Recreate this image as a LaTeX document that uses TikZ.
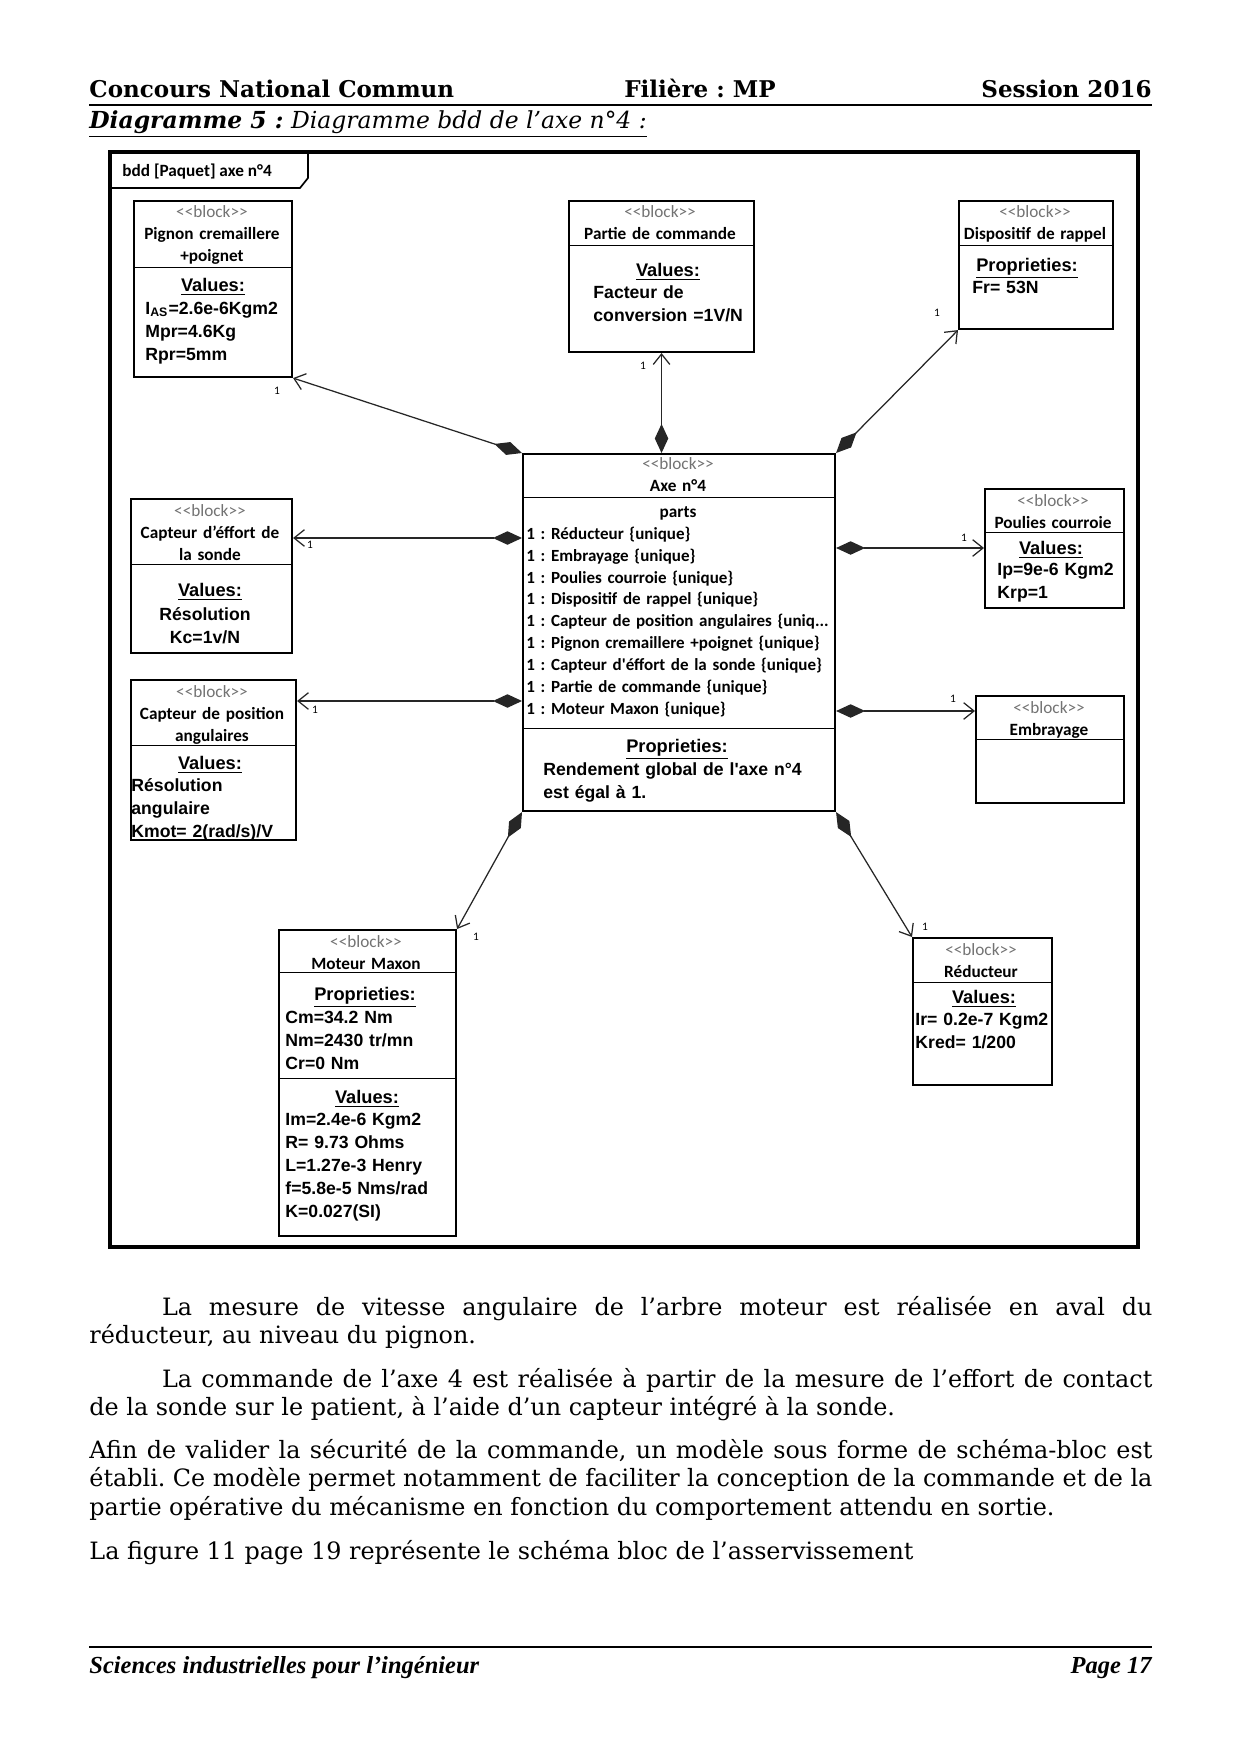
\documentclass[tikz,border=0pt]{standalone}
\usepackage{fontspec}
\setmainfont{DejaVu Serif}
\newfontfamily\calibfont{Carlito}
\newfontfamily\arialfont{Liberation Sans}
\newfontfamily\timesfont{Liberation Serif}
\usepackage{tikz}
\usetikzlibrary{positioning, calc, arrows.meta}

\def\pxl{0.016935cm}
\newcommand{\blk}{{\mdseries\color{black!55}<{}<block>{}>}}

\tikzset{
  bloc/.style={draw, line width=1pt, anchor=north west, inner sep=0pt},
  tete/.style={anchor=base, inner sep=0pt, align=center, text width=#1*\pxl,
    font=\calibfont\bfseries\fontsize{8.3}{10.8}\selectfont},
  titre/.style={anchor=base, inner sep=0pt, font=\arialfont\bfseries\fontsize{8.8}{11.2}\selectfont},
  valeur/.style={anchor=base west, inner sep=0pt, align=left, text width=#1*\pxl,
    font=\arialfont\bfseries\fontsize{8.5}{11.2}\selectfont},
  mult/.style={inner sep=0pt, font=\calibfont\fontsize{5.5}{6}\selectfont},
  compo/.style={draw=black!85, line width=0.6pt,
    {Diamond[length=14pt,width=6.5pt]}-{Straight Barb[length=5pt,width=8pt]}},
  texte/.style={anchor=base west, inner sep=0pt, align=justify, text width=1063*\pxl,
    font=\fontsize{11.5}{13.9}\selectfont}
}

\begin{document}
\frenchspacing
\begin{tikzpicture}[x=\pxl, y=-\pxl]
  \fill[white] (0,0) rectangle (1240,1754);
  \useasboundingbox (0,0) rectangle (1240,1754);

  % En-tete
  \node[anchor=base west, inner sep=0pt, font=\bfseries\fontsize{11.1}{13}\selectfont] (concours) at (89,97) {Concours National Commun};
  \node[anchor=base, inner sep=0pt, font=\bfseries\fontsize{11.1}{13}\selectfont] (filiere) at (700,97) {Filière : MP};
  \node[anchor=base east, inner sep=0pt, font=\bfseries\fontsize{11.1}{13}\selectfont] (session) at (1152,97) {Session 2016};
  \draw[line width=0.6pt] (89,105) -- (1152,105);
  \node[anchor=base west, inner sep=0pt, font=\itshape\fontsize{11.3}{13}\selectfont] (diag) at (89,128)
    {\underline{\textbf{Diagramme 5 :} Diagramme bdd de l’axe n°4 :}};

  % Cadre du diagramme
  \draw[line width=2.2pt] (110,152) rectangle (1138,1247);
  \draw[line width=0.8pt] (110,188) -- (300,188) -- (308,178) -- (308,152);
  \node[anchor=base west, inner sep=0pt, font=\calibfont\bfseries\fontsize{8.3}{10}\selectfont] (cadre) at (122,176) {bdd [Paquet] axe n°4};

  % Bloc central
  \node[bloc, minimum width=312*\pxl, minimum height=357*\pxl] (axe) at (522,453) {};
  \draw (axe.west |- 0,497) -- (axe.east |- 0,497);
  \draw (axe.west |- 0,728) -- (axe.east |- 0,728);
  \node[tete=312] (axeT) at (678,469) {\blk\\Axe n°4};
  \node[tete=312] (axeP) at (678,517) {parts};
  \node[anchor=base west, inner sep=0pt, align=left, text width=310*\pxl,
    font=\calibfont\bfseries\fontsize{8.2}{10.6}\selectfont] (axeL) at (526,539)
    {1 : Réducteur \{unique\}\\
     1 : Embrayage \{unique\}\\
     1 : Poulies courroie \{unique\}\\
     1 : Dispositif de rappel \{unique\}\\
     1 : Capteur de position angulaires \{uniq...\\
     1 : Pignon cremaillere +poignet \{unique\}\\
     1 : Capteur d'éffort de la sonde \{unique\}\\
     1 : Partie de commande \{unique\}\\
     1 : Moteur Maxon \{unique\}};
  \node[titre] (axeR) at (677,752) {\underline{Proprieties:}};
  \node[valeur=285] (axeS) at (543,775) {Rendement global de l'axe n°4\\est égal à 1.};

  % Premiere rangee
  \node[bloc, minimum width=158*\pxl, minimum height=176*\pxl] (pignon) at (133,200) {};
  \draw (pignon.west |- 0,267) -- (pignon.east |- 0,267);
  \node[tete=158] (pignonT) at (212,217) {\blk\\Pignon cremaillere\\+poignet};
  \node[titre] (pignonV) at (213,291) {\underline{Values:}};
  \node[valeur=140] (pignonL) at (145,314) {I\textsubscript{AS}=2.6e-6Kgm2\\Mpr=4.6Kg\\Rpr=5mm};

  \node[bloc, minimum width=185*\pxl, minimum height=151*\pxl] (cmd) at (568,200) {};
  \draw (cmd.west |- 0,245) -- (cmd.east |- 0,245);
  \node[tete=185] (cmdT) at (660,217) {\blk\\Partie de commande};
  \node[titre] (cmdV) at (668,276) {\underline{Values:}};
  \node[valeur=155] (cmdL) at (593,298) {Facteur de\\conversion =1V/N};

  \node[bloc, minimum width=154*\pxl, minimum height=128*\pxl] (rappel) at (958,200) {};
  \draw (rappel.west |- 0,245) -- (rappel.east |- 0,245);
  \node[tete=154] (rappelT) at (1035,217) {\blk\\Dispositif de rappel};
  \node[titre] (rappelP) at (1027,271) {\underline{Proprieties:}};
  \node[valeur=130] (rappelL) at (972,293) {Fr= 53N};

  % Capteurs a gauche
  \node[bloc, minimum width=161*\pxl, minimum height=154*\pxl] (effort) at (130,498) {};
  \draw (effort.west |- 0,564) -- (effort.east |- 0,564);
  \node[tete=161] (effortT) at (210,516) {\blk\\Capteur d’éffort de\\la sonde};
  \node[titre] (effortV) at (210,596) {\underline{Values:}};
  \node[valeur=150, align=center, anchor=base] (effortL) at (205,620) {Résolution\\Kc=1v/N};

  \node[bloc, minimum width=165*\pxl, minimum height=160*\pxl] (position) at (130,679) {};
  \draw (position.west |- 0,745) -- (position.east |- 0,745);
  \node[tete=165] (positionT) at (212,697) {\blk\\Capteur de position\\angulaires};
  \node[titre] (positionV) at (210,769) {\underline{Values:}};
  \node[valeur=160] (positionL) at (131,791) {Résolution\\angulaire\\Kmot= 2(rad/s)/V};

  % Blocs a droite
  \node[bloc, minimum width=139*\pxl, minimum height=119*\pxl] (poulies) at (984,488) {};
  \draw (poulies.west |- 0,532) -- (poulies.east |- 0,532);
  \node[tete=139] (pouliesT) at (1053,506) {\blk\\Poulies courroie};
  \node[titre] (pouliesV) at (1051,554) {\underline{Values:}};
  \node[valeur=125] (pouliesL) at (997,575) {Ip=9e-6 Kgm2\\Krp=1};

  \node[bloc, minimum width=148*\pxl, minimum height=107*\pxl] (embrayage) at (975,695) {};
  \draw (embrayage.west |- 0,739) -- (embrayage.east |- 0,739);
  \node[tete=148] (embrayageT) at (1049,713) {\blk\\Embrayage};

  % Rangee du bas
  \node[bloc, minimum width=177*\pxl, minimum height=306*\pxl] (moteur) at (278,929) {};
  \draw (moteur.west |- 0,972) -- (moteur.east |- 0,972);
  \draw (moteur.west |- 0,1078) -- (moteur.east |- 0,1078);
  \node[tete=177] (moteurT) at (366,947) {\blk\\Moteur Maxon};
  \node[titre] (moteurP) at (365,1000) {\underline{Proprieties:}};
  \node[valeur=165] (moteurL) at (285,1023) {Cm=34.2 Nm\\Nm=2430 tr/mn\\Cr=0 Nm};
  \node[titre] (moteurV) at (367,1103) {\underline{Values:}};
  \node[valeur=165] (moteurW) at (285,1125) {Im=2.4e-6 Kgm2\\R= 9.73 Ohms\\L=1.27e-3 Henry\\f=5.8e-5 Nms/rad\\K=0.027(SI)};

  \node[bloc, minimum width=139*\pxl, minimum height=147*\pxl] (reducteur) at (912,937) {};
  \draw (reducteur.west |- 0,982) -- (reducteur.east |- 0,982);
  \node[tete=139] (reducteurT) at (981,955) {\blk\\Réducteur};
  \node[titre] (reducteurV) at (984,1003) {\underline{Values:}};
  \node[valeur=135] (reducteurL) at (915,1025) {Ir= 0.2e-7 Kgm2\\Kred= 1/200};

  % Liens de composition
  \draw[compo] (cmd.south |- axe.north) -- (cmd.south);
  \draw[compo] (axe.north west) -- (pignon.south east);
  \draw[compo] (axe.north east) -- (rappel.south west);
  \draw[compo] (axe.west |- 0,538) -- (effort.east |- 0,538);
  \draw[compo] (axe.west |- 0,701) -- (position.east |- 0,701);
  \draw[compo] (axe.east |- 0,548) -- (poulies.west |- 0,548);
  \draw[compo] (axe.east |- 0,711) -- (embrayage.west |- 0,711);
  \draw[compo] (axe.south west) -- (moteur.north east);
  \draw[compo] (axe.south east) -- (reducteur.north west);

  % Multiplicites
  \node[mult] (m1) at (277,391) {1};
  \node[mult] (m2) at (643,366) {1};
  \node[mult] (m3) at (937,313) {1};
  \node[mult] (m4) at (310,545) {1};
  \node[mult] (m5) at (315,710) {1};
  \node[mult] (m6) at (964,538) {1};
  \node[mult] (m7) at (953,699) {1};
  \node[mult] (m8) at (476,937) {1};
  \node[mult] (m9) at (925,927) {1};

  % Texte sous le diagramme
  \node[texte] (par1) at (89,1315) {\hspace*{35pt}La mesure de vitesse angulaire de l’arbre moteur est réalisée en aval du\linebreak
    réducteur, au niveau du pignon.};
  \node[texte] (par2) at (89,1387) {\hspace*{35pt}La commande de l’axe 4 est réalisée à partir de la mesure de l’effort de contact\linebreak
    de la sonde sur le patient, à l’aide d’un capteur intégré à la sonde.};
  \node[texte] (par3) at (89,1458) {Afin de valider la sécurité de la commande, un modèle sous forme de schéma-bloc est\linebreak
    établi. Ce modèle permet notamment de faciliter la conception de la commande et de la\linebreak
    partie opérative du mécanisme en fonction du comportement attendu en sortie.};
  \node[texte] (par4) at (89,1559) {La figure 11 page 19 représente le schéma bloc de l’asservissement};

  % Pied de page
  \draw[line width=0.6pt] (89,1647) -- (1152,1647);
  \node[anchor=base west, inner sep=0pt, font=\timesfont\bfseries\itshape\fontsize{11.8}{14}\selectfont] (matiere) at (89,1673) {Sciences industrielles pour l’ingénieur};
  \node[anchor=base east, inner sep=0pt, font=\timesfont\bfseries\itshape\fontsize{11.8}{14}\selectfont] (page) at (1152,1673) {Page 17};
\end{tikzpicture}
\end{document}
